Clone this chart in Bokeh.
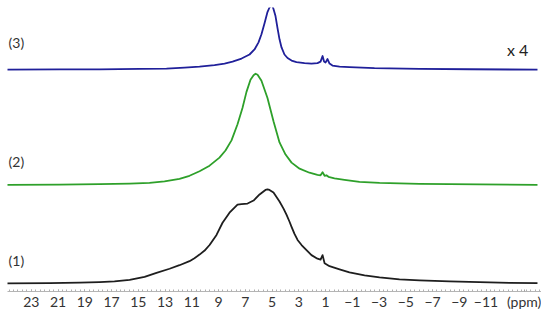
from bokeh.plotting import figure
from bokeh.models import Range1d, FixedTicker, ColumnDataSource
from bokeh.core.properties import value
from bokeh.embed import file_html
from bokeh.resources import INLINE

# ---- data (chemical shift in ppm, intensity in arbitrary units) ----
ppm_1 = [25.0, 21.64, 19.39, 17.90, 16.78, 15.65, 14.53, 13.64, 12.66, 11.92, 11.17, 10.80,
         10.42, 10.04, 9.67, 9.15, 8.70, 8.18, 7.73, 7.58, 7.28, 6.83, 6.38, 5.93, 5.64, 5.49,
         5.34, 5.19, 4.89, 4.44, 4.14, 3.92, 3.69, 3.54, 3.32, 3.09, 2.79, 2.57, 2.05, 1.60,
         1.37, 1.22, 1.07, 0.70, -0.05, -0.79, -1.92, -3.04, -4.53, -6.03, -8.27, -10.51,
         -12.76, -14.85]
int_1 = [0, 0.3, 0.8, 1.3, 2, 3.5, 6.5, 10.5, 14.5, 18, 22, 25,
         28.5, 32.5, 38, 48, 60, 70, 76, 78, 78.5, 79, 82, 88, 91, 92.5,
         93, 92.5, 90, 81, 74, 68, 61, 56, 49, 43, 38, 35, 28, 24.5,
         23.5, 28, 20, 17, 14, 11, 8, 6, 4, 3, 2, 1.2,
         0.6, 0.3]

ppm_2 = [25.0, 20.89, 17.90, 15.65, 14.16, 13.04, 11.92, 11.17, 10.42, 9.67, 8.93, 8.48,
         8.03, 7.58, 7.21, 6.91, 6.61, 6.38, 6.23, 6.08, 5.79, 5.34, 4.89, 4.44, 3.99, 3.54,
         2.94, 2.20, 1.60, 1.37, 1.22, 1.07, 0.93, 0.78, 0.33, -0.42, -1.54, -3.04, -6.03,
         -10.51, -14.85]
int_2 = [0, 0.3, 0.8, 1.3, 2, 3.5, 6, 9, 13.5, 19, 27, 34,
         44, 60, 76, 92, 104, 108.5, 110, 109, 103, 86, 63, 42, 30, 22,
         16, 12, 10, 9.5, 12.5, 9, 9.5, 8, 6.5, 5, 3, 2, 1,
         0.4, 0]

ppm_3 = [25.0, 20.89, 17.90, 14.91, 12.89, 11.54, 10.42, 9.30, 8.55, 7.95, 7.28, 6.68,
         6.31, 6.01, 5.79, 5.56, 5.34, 5.19, 5.11, 5.04, 4.96, 4.89, 4.74, 4.59, 4.44, 4.29,
         4.07, 3.84, 3.54, 3.17, 2.57, 2.05, 1.60, 1.37, 1.22, 1.11, 1.00, 0.85, 0.70, 0.48,
         -0.05, -0.79, -2.66, -6.03, -9.77, -14.85]
int_3 = [0, 0.3, 0.3, 0.8, 1, 2, 3, 4.5, 6, 8, 11, 15,
         20, 27, 35, 46, 57, 61.5, 62.8, 63, 62.5, 60, 53, 41, 30, 22,
         15, 11.5, 9, 7.5, 6.5, 6, 6.5, 8, 13.5, 8, 7, 10.5, 6, 4,
         3, 2.5, 1.5, 0.8, 0.4, 0]

offsets = [8, 105.5, 219.5]
series_labels = ["(1)", "(2)", "(3)"]
series_colors = ["#1e1e1e", "#2ea02a", "#20209a"]
scale_label = "x 4"

tick_values = [23, 21, 19, 17, 15, 13, 11, 9, 7, 5, 3, 1, -1, -3, -5, -7, -9, -11]
tick_labels = ["23", "21", "19", "17", "15", "13", "11", "9", "7", "5", "3", "1",
               "\u22121", "\u22123", "\u22125", "\u22127", "\u22129", "\u221211"]
unit_label = "(ppm)"
unit_pos = -13.85

FONT = "Lato"

p = figure(width=541, height=312, output_backend="svg", toolbar_location=None,
           x_range=Range1d(24.78, -15.15), y_range=Range1d(0, 281),
           min_border_left=7, min_border_right=0, min_border_top=7, min_border_bottom=0)
p.outline_line_color = None
p.grid.visible = False
p.yaxis.visible = False
p.background_fill_color = "white"
p.border_fill_color = "white"

for xs, ys, off, col in [(ppm_1, int_1, offsets[0], series_colors[0]),
                         (ppm_2, int_2, offsets[1], series_colors[1]),
                         (ppm_3, int_3, offsets[2], series_colors[2])]:
    src = ColumnDataSource(dict(x=xs, y=[off + v for v in ys]))
    p.line("x", "y", source=src, line_color=col, line_width=1.8, line_join="round")

# series labels
lab_src = ColumnDataSource(dict(x=[24.7, 24.7, 24.7],
                                y=[289 - 258, 289 - 160, 289 - 43],
                                t=series_labels))
p.text("x", "y", text="t", source=lab_src, text_font=value(FONT), text_font_size="14px",
       text_color="#333333", text_align="left", text_baseline="middle")
p.text(x=[-13.36], y=[289 - 50], text=[scale_label], text_font=value(FONT),
       text_font_size="16px", text_color="#222222", text_align="center",
       text_baseline="middle")

# axis
minor = [25 - i / 3 for i in range(0, 121)]
ax = p.xaxis[0]
ax.ticker = FixedTicker(ticks=tick_values + [unit_pos], minor_ticks=minor)
overrides = {v: l for v, l in zip(tick_values, tick_labels)}
overrides[unit_pos] = unit_label
ax.major_label_overrides = overrides
ax.axis_line_color = "#b5b5b5"
ax.axis_line_width = 1
ax.major_tick_line_color = "#a0a0a0"
ax.minor_tick_line_color = "#b0b0b0"
ax.major_tick_in = 2
ax.major_tick_out = 0
ax.minor_tick_in = 2
ax.minor_tick_out = 0
ax.major_label_standoff = 1
ax.major_label_text_font = FONT
ax.major_label_text_font_size = "14px"
ax.major_label_text_color = "#333333"

open("out.html", "w").write(file_html(p, INLINE))
